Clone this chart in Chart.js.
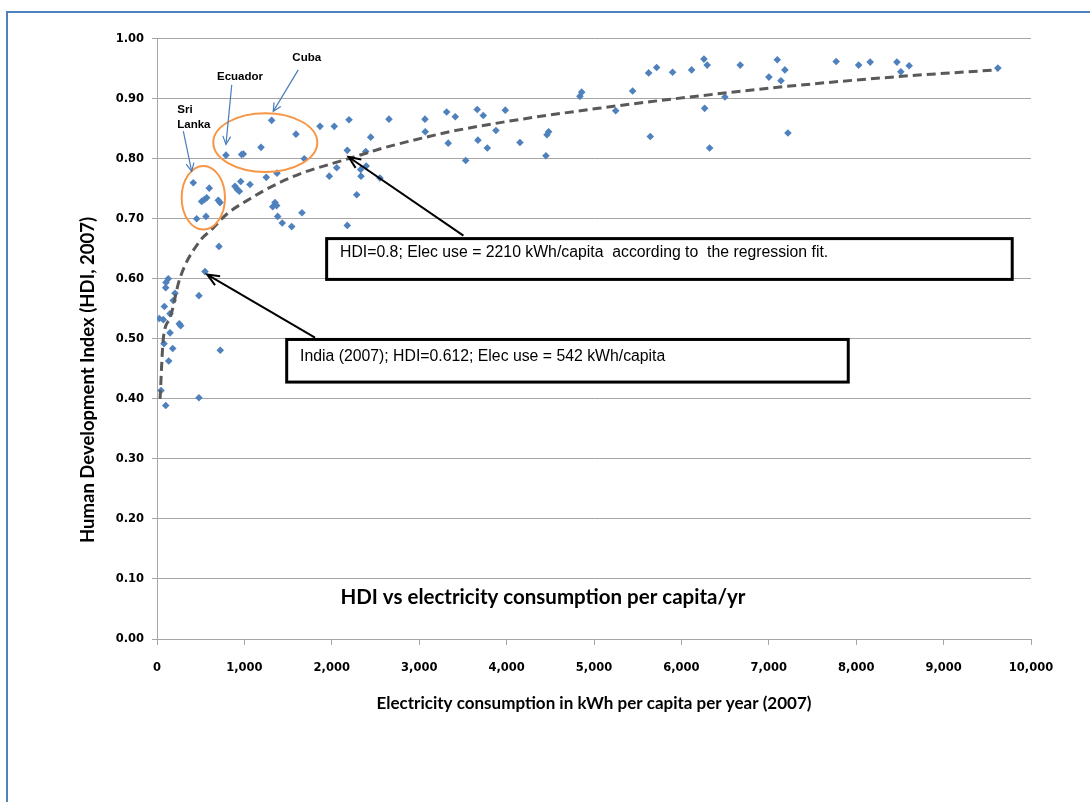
<!DOCTYPE html>
<html>
<head>
<meta charset="utf-8">
<script src="https://cdn.jsdelivr.net/npm/chart.js@4.4.1/dist/chart.umd.min.js"></script>
<style>
  html, body { margin: 0; padding: 0; background: #fff; }
  #wrap { width: 1090px; height: 802px; }
</style>
</head>
<body>
<div id="wrap"><canvas id="chart-hdi" width="1090" height="802"></canvas></div>
<script>
// kWh per capita per year (2007), one entry per country
const elecUse = [26, 46, 72, 80, 84, 100, 100, 103, 129, 134, 149, 149, 180, 186, 206, 255, 271,
  415, 454, 480, 480, 511, 541, 549, 561, 569, 598, 701, 709, 721, 724, 789, 892, 919, 942, 958, 968, 988,
  1064, 1190, 1250, 1312, 1324, 1350, 1369, 1373, 1381, 1433, 1541, 1590, 1659, 1685, 1865, 1971,
  2028, 2056, 2177, 2177, 2197, 2285, 2330, 2334, 2388, 2394, 2445, 2551, 2654,
  3066, 3069, 3314, 3332, 3413, 3532, 3664, 3672, 3733, 3779, 3878, 3985, 4153, 4450, 4462, 4481, 4839, 4859,
  5248, 5442, 5625, 5644, 5717, 5899, 6117, 6258, 6266, 6295, 6323, 6498, 6673, 7001, 7097, 7139, 7184, 7219,
  7771, 8028, 8160, 8466, 8511, 8606, 9621];

// HDI 2007, same order
const hdi = [0.534, 0.414, 0.532, 0.492, 0.554, 0.389, 0.585, 0.594, 0.600, 0.463, 0.510, 0.542, 0.484, 0.564, 0.576, 0.525, 0.522,
  0.760, 0.700, 0.572, 0.402, 0.729, 0.732, 0.612, 0.704, 0.735, 0.751, 0.731, 0.654, 0.727, 0.481, 0.806, 0.754, 0.749, 0.746, 0.762, 0.807, 0.808,
  0.757, 0.819, 0.769, 0.864, 0.720, 0.727, 0.722, 0.776, 0.704, 0.693, 0.687, 0.841, 0.710, 0.800, 0.854, 0.771,
  0.854, 0.785, 0.814, 0.689, 0.865, 0.740, 0.782, 0.771, 0.812, 0.788, 0.836, 0.768, 0.866,
  0.866, 0.845, 0.878, 0.826, 0.870, 0.797, 0.882, 0.831, 0.872, 0.818, 0.847, 0.881, 0.827, 0.805, 0.840, 0.845, 0.904, 0.911,
  0.880, 0.913, 0.943, 0.837, 0.952, 0.944, 0.948, 0.966, 0.884, 0.956, 0.818, 0.903, 0.956, 0.936, 0.965, 0.930, 0.948, 0.843,
  0.962, 0.956, 0.961, 0.961, 0.945, 0.955, 0.951];

// regression trend line
const trendElec = [35, 72, 150, 260, 490, 625, 800, 1060, 1370, 1675, 1980, 2210, 2590, 3050, 3350, 4000, 4500, 5050, 5640, 7170, 8490, 9610];
const trendHdi = [0.40, 0.50, 0.535, 0.60, 0.663, 0.682, 0.708, 0.733, 0.758, 0.777, 0.791, 0.801, 0.818, 0.835, 0.845, 0.862, 0.873, 0.884, 0.895, 0.920, 0.937, 0.948];

const xTickValues = [0, 1000, 2000, 3000, 4000, 5000, 6000, 7000, 8000, 9000, 10000];
const yTickValues = [0, 0.1, 0.2, 0.3, 0.4, 0.5, 0.6, 0.7, 0.8, 0.9, 1.0];

// annotations (in data units)
const callouts = [
  { text: 'HDI=0.8; Elec use = 2210 kWh/capita  according to  the regression fit.', x1: 1941, y1: 0.667, x2: 9785, y2: 0.599, tx: 2094, ty: 0.644 },
  { text: 'India (2007); HDI=0.612; Elec use = 542 kWh/capita', x1: 1484, y1: 0.499, x2: 7909, y2: 0.428, tx: 1636, ty: 0.471 }
];
const blackArrows = [[3506, 0.672, 2192, 0.803], [1808, 0.502, 575, 0.607]];
const blueArrows = [[301, 0.846, 397, 0.779], [855, 0.923, 789, 0.824], [1616, 0.948, 1330, 0.879]];
const rings = [{ x: 530, y: 0.735, rx: 248, ry: 0.053 }, { x: 1239, y: 0.827, rx: 595, ry: 0.049 }];
const countryLabels = [
  { text: 'Cuba', x: 1713, y: 0.968, align: 'center' },
  { text: 'Ecuador', x: 950, y: 0.936, align: 'center' },
  { text: 'Sri', x: 232, y: 0.882, align: 'left' },
  { text: 'Lanka', x: 232, y: 0.857, align: 'left' }
];
const chartTitle = { text: 'HDI vs electricity consumption per capita/yr', x: 4416, y: 0.070 };

const GRID = '#a6a6a6';
const BLUE = '#4f81bd';
const TICK_FONT = { family: 'DejaVu Sans', size: 11.5, weight: 'bold' };

function arrow(ctx, x1, y1, x2, y2, len, ang) {
  ctx.beginPath();
  ctx.moveTo(x1, y1);
  ctx.lineTo(x2, y2);
  ctx.stroke();
  const a = Math.atan2(y2 - y1, x2 - x1);
  ctx.beginPath();
  ctx.moveTo(x2 - len * Math.cos(a - ang), y2 - len * Math.sin(a - ang));
  ctx.lineTo(x2, y2);
  ctx.lineTo(x2 - len * Math.cos(a + ang), y2 - len * Math.sin(a + ang));
  ctx.stroke();
}

const frame = {
  id: 'frame',
  beforeDraw(chart) {
    const ctx = chart.ctx;
    ctx.save();
    ctx.fillStyle = '#fff';
    ctx.fillRect(0, 0, chart.width, chart.height);
    ctx.strokeStyle = BLUE;
    ctx.lineWidth = 2;
    ctx.strokeRect(7, 12, chart.width + 20, chart.height + 20);
    ctx.restore();
  }
};

const notes = {
  id: 'notes',
  afterDatasetsDraw(chart) {
    const ctx = chart.ctx;
    const xs = chart.scales.x, ys = chart.scales.y;
    const px = v => xs.getPixelForValue(v), py = v => ys.getPixelForValue(v);
    ctx.save();

    // chart title inside plot
    ctx.fillStyle = '#000';
    ctx.font = 'bold 20.5px Lato';
    ctx.textAlign = 'center';
    ctx.textBaseline = 'middle';
    ctx.fillText(chartTitle.text, px(chartTitle.x), py(chartTitle.y));

    // y axis title
    ctx.save();
    ctx.translate(88, 380);
    ctx.rotate(-Math.PI / 2);
    ctx.font = 'bold 18.5px Lato';
    ctx.fillText('Human Development Index (HDI, 2007)', 0, 0);
    ctx.restore();

    // orange rings
    ctx.strokeStyle = '#f79646';
    ctx.lineWidth = 2;
    rings.forEach(r => {
      ctx.beginPath();
      ctx.ellipse(px(r.x), py(r.y), Math.abs(px(r.x + r.rx) - px(r.x)), Math.abs(py(r.y + r.ry) - py(r.y)), 0, 0, Math.PI * 2);
      ctx.stroke();
    });

    // blue pointers
    ctx.strokeStyle = '#4a7ebb';
    ctx.lineWidth = 1.2;
    blueArrows.forEach(a => arrow(ctx, px(a[0]), py(a[1]), px(a[2]), py(a[3]), 9, 0.45));

    // country names
    ctx.fillStyle = '#000';
    ctx.font = 'bold 11.5px "Liberation Sans"';
    countryLabels.forEach(l => {
      ctx.textAlign = l.align;
      ctx.fillText(l.text, px(l.x), py(l.y));
    });

    // callout boxes
    callouts.forEach(c => {
      const x1 = px(c.x1), y1 = py(c.y1), x2 = px(c.x2), y2 = py(c.y2);
      ctx.fillStyle = '#fff';
      ctx.fillRect(x1, y1, x2 - x1, y2 - y1);
      ctx.strokeStyle = '#000';
      ctx.lineWidth = 3;
      ctx.strokeRect(x1, y1, x2 - x1, y2 - y1);
      ctx.fillStyle = '#000';
      ctx.font = '15.8px "Liberation Sans"';
      ctx.textAlign = 'left';
      ctx.fillText(c.text, px(c.tx), py(c.ty));
    });

    // black pointers
    ctx.strokeStyle = '#000';
    ctx.lineWidth = 2;
    blackArrows.forEach(a => arrow(ctx, px(a[0]), py(a[1]), px(a[2]), py(a[3]), 13, 0.4));

    ctx.restore();
  }
};

const ctx = document.getElementById('chart-hdi').getContext('2d');
new Chart(ctx, {
  type: 'scatter',
  data: {
    datasets: [
      {
        label: 'Log trend',
        type: 'line',
        data: trendElec.map((x, i) => ({ x, y: trendHdi[i] })),
        borderColor: '#595959',
        borderWidth: 3,
        borderDash: [9, 5],
        pointRadius: 0,
        fill: false,
        cubicInterpolationMode: 'monotone'
      },
      {
        label: 'HDI',
        data: elecUse.map((x, i) => ({ x, y: hdi[i] })),
        pointStyle: 'rectRot',
        pointRadius: 3.8,
        pointBorderWidth: 0,
        backgroundColor: BLUE,
        borderColor: BLUE
      }
    ]
  },
  options: {
    responsive: false,
    animation: false,
    devicePixelRatio: 1,
    layout: { padding: { left: 0, top: 38.7, right: 59, bottom: 0 } },
    plugins: { legend: { display: false }, tooltip: { enabled: false } },
    scales: {
      x: {
        type: 'linear',
        min: 0,
        max: 10000,
        afterBuildTicks: s => { s.ticks = xTickValues.map(v => ({ value: v })); },
        afterFit: s => { s.height = 163; },
        grid: { drawOnChartArea: false, drawTicks: true, tickLength: 6, color: GRID },
        border: { color: GRID },
        ticks: {
          color: '#000',
          font: TICK_FONT,
          padding: 16,
          maxRotation: 0,
          autoSkip: false,
          callback: v => v.toLocaleString('en-US')
        },
        title: {
          display: true,
          text: 'Electricity consumption in kWh per capita per year (2007)',
          color: '#000',
          font: { family: 'Lato', size: 17, weight: 'bold' },
          padding: { top: 0, bottom: 88 }
        }
      },
      y: {
        type: 'linear',
        min: 0,
        max: 1,
        afterBuildTicks: s => { s.ticks = yTickValues.map(v => ({ value: v })); },
        afterFit: s => { s.width = 157; },
        grid: { color: GRID, tickLength: 5 },
        border: { color: GRID },
        ticks: {
          color: '#000',
          font: TICK_FONT,
          padding: 8,
          callback: v => v.toFixed(2)
        }
      }
    }
  },
  plugins: [frame, notes]
});
</script>
</body>
</html>
